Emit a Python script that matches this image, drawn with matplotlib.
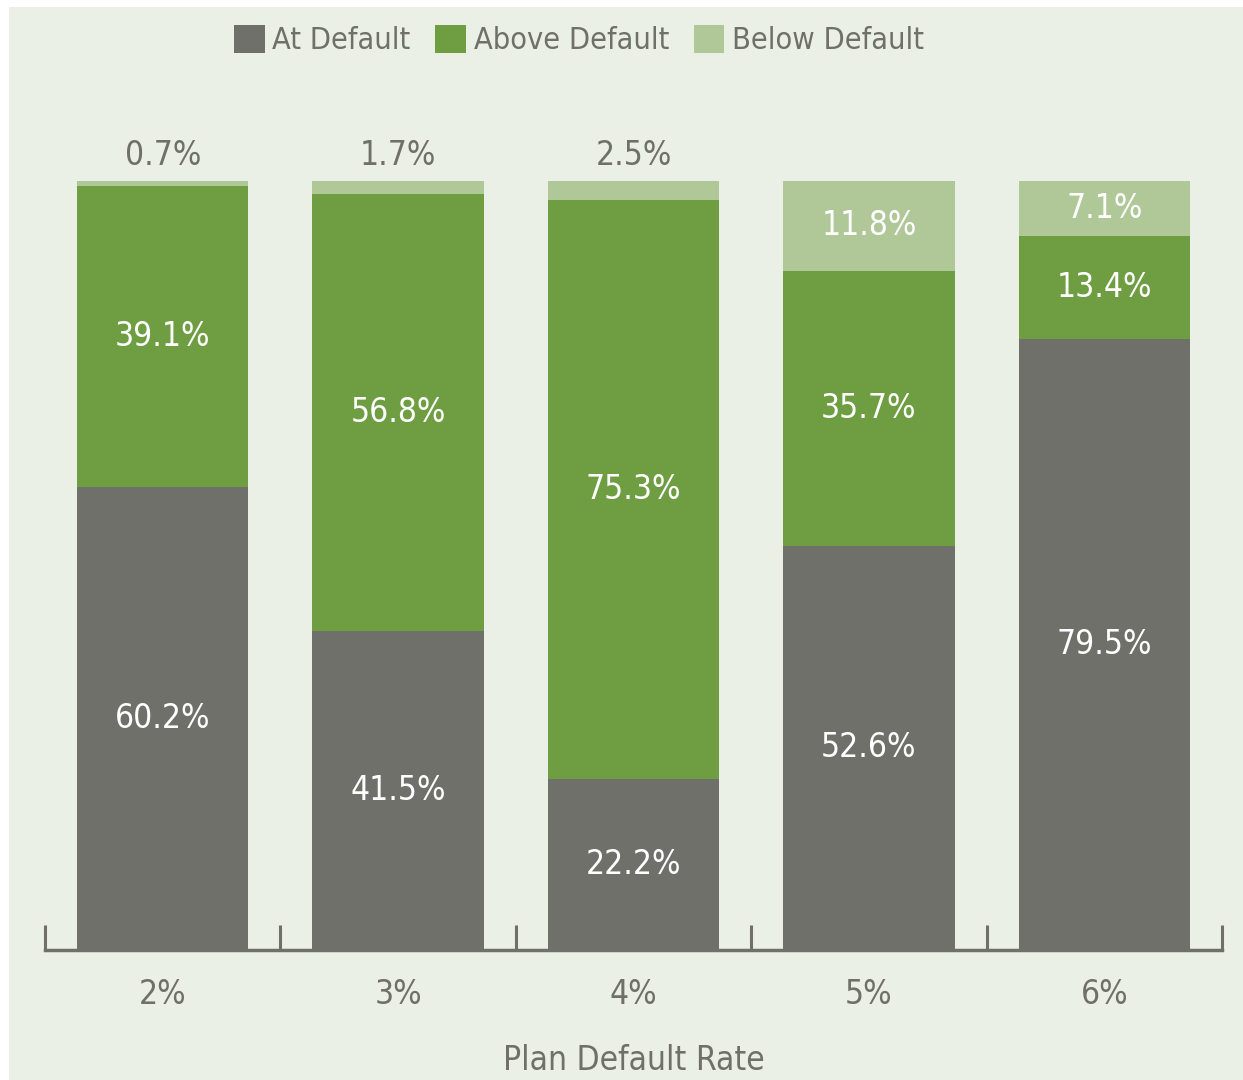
import matplotlib
matplotlib.use("Agg")
import matplotlib.pyplot as plt
from matplotlib.patches import Rectangle
import numpy as np

categories = ["2%", "3%", "4%", "5%", "6%"]
at_default = [60.2, 41.5, 22.2, 52.6, 79.5]
above_default = [39.1, 56.8, 75.3, 35.7, 13.4]
below_default = [0.7, 1.7, 2.5, 11.8, 7.1]
series_names = ["At Default", "Above Default", "Below Default"]

C_AT = "#6f706a"
C_ABOVE = "#6f9e42"
C_BELOW = "#b0c898"
BG = "#eaf0e6"
TXT = "#6f706a"

plt.rcParams['font.family'] = ['DejaVu Sans']
plt.rcParams['font.stretch'] = 'condensed'

W, H = 1243, 1080
fig = plt.figure(figsize=(W / 100, H / 100), dpi=100, facecolor="white")
fig.patches.append(Rectangle((9 / W, 0), 1 - 9 / W, 1 - 7 / H, transform=fig.transFigure,
                             facecolor=BG, edgecolor="none", zorder=-10))

ax = fig.add_axes([45 / W, 1 - 950 / H, (1222 - 45) / W, (950 - 181) / H])
ax.set_facecolor("none")

x = np.arange(len(categories))
bw = 0.728
at = np.array(at_default)
ab = np.array(above_default)
be = np.array(below_default)
ax.bar(x, at, bw, color=C_AT, label=series_names[0], zorder=2)
ax.bar(x, ab, bw, bottom=at, color=C_ABOVE, label=series_names[1], zorder=2)
ax.bar(x, be, bw, bottom=at + ab, color=C_BELOW, label=series_names[2], zorder=2)

fs = 24
for i in range(len(x)):
    ax.text(x[i], at[i] / 2, f"{at[i]:.1f}%", ha="center", va="center", color="white", fontsize=fs)
    ax.text(x[i], at[i] + ab[i] / 2, f"{ab[i]:.1f}%", ha="center", va="center", color="white", fontsize=fs)
    if be[i] >= 5:
        ax.text(x[i], at[i] + ab[i] + be[i] / 2, f"{be[i]:.1f}%", ha="center", va="center",
                color="white", fontsize=fs)
    else:
        ax.text(x[i], 100 + 1.2, f"{be[i]:.1f}%", ha="center", va="bottom", color=TXT, fontsize=fs)

ax.set_xlim(-0.5, len(x) - 0.5)
ax.set_ylim(0, 100)
for s in ["top", "right", "left"]:
    ax.spines[s].set_visible(False)
ax.spines["bottom"].set_color(C_AT)
ax.spines["bottom"].set_linewidth(2.5)
ax.spines["bottom"].set_zorder(3)
ax.set_yticks([])
ax.set_xticks(x)
ax.set_xticklabels(categories, fontsize=fs, color=TXT)
ax.tick_params(axis="x", which="major", length=0, pad=20)
ax.set_xticks(np.arange(-0.5, len(x), 1.0), minor=True)
ax.tick_params(axis="x", which="minor", direction="in", length=18, width=2.2, color=C_AT)
ax.set_xlabel("Plan Default Rate", fontsize=fs, color=TXT, labelpad=24)

leg = fig.legend(loc="center", bbox_to_anchor=(579 / W, 1 - 40 / H), ncol=3, frameon=False,
                 fontsize=22, labelcolor=TXT, handlelength=1.0, handleheight=1.05,
                 handletextpad=0.26, columnspacing=0.8, borderaxespad=0)

fig.savefig("out.png", dpi=100, facecolor=fig.get_facecolor())
